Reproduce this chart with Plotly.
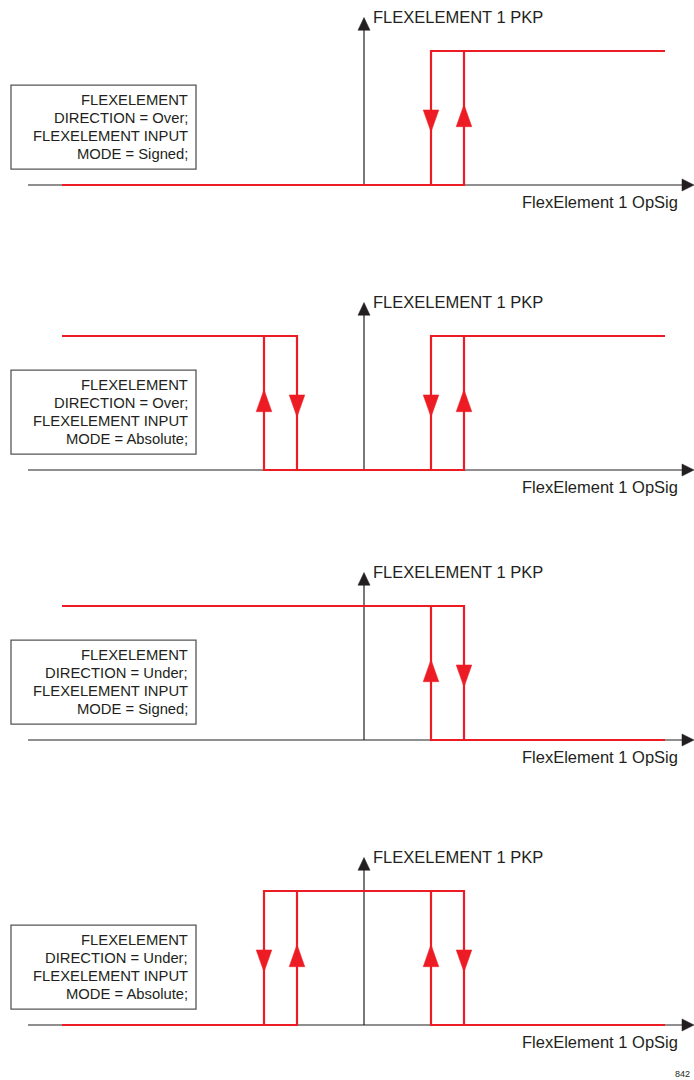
import plotly.graph_objects as go
from plotly.subplots import make_subplots

# thresholds (x units): pickup and dropout of the hysteresis band
PKP = 1.00
DPO = 0.67
X_START, X_END = -3.02, 3.01

box_texts = [
    ["FLEXELEMENT", "DIRECTION = Over;", "FLEXELEMENT INPUT", "MODE = Signed;"],
    ["FLEXELEMENT", "DIRECTION = Over;", "FLEXELEMENT INPUT", "MODE = Absolute;"],
    ["FLEXELEMENT", "DIRECTION = Under;", "FLEXELEMENT INPUT", "MODE = Signed;"],
    ["FLEXELEMENT", "DIRECTION = Under;", "FLEXELEMENT INPUT", "MODE = Absolute;"],
]

# red characteristic paths, None breaks the line
over_signed_x = [X_START, PKP, PKP, None, DPO, DPO, X_END]
over_signed_y = [0, 0, 1, None, 0, 1, 1]

over_abs_x = [X_START, -DPO, -DPO, None, -PKP, -PKP, PKP, PKP, None, DPO, DPO, X_END]
over_abs_y = [1, 1, 0, None, 1, 0, 0, 1, None, 0, 1, 1]

under_signed_x = [X_START, PKP, PKP, None, DPO, DPO, X_END]
under_signed_y = [1, 1, 0, None, 1, 0, 0]

under_abs_x = [X_START, -DPO, -DPO, None, -PKP, -PKP, PKP, PKP, None, DPO, DPO, X_END]
under_abs_y = [0, 0, 1, None, 0, 1, 1, 0, None, 1, 0, 0]

paths = [(over_signed_x, over_signed_y), (over_abs_x, over_abs_y),
         (under_signed_x, under_signed_y), (under_abs_x, under_abs_y)]

# arrow heads on the vertical edges: (x, direction)
arrows = [
    [(DPO, "down"), (PKP, "up")],
    [(-PKP, "up"), (-DPO, "down"), (DPO, "down"), (PKP, "up")],
    [(DPO, "up"), (PKP, "down")],
    [(-PKP, "down"), (-DPO, "up"), (DPO, "up"), (PKP, "down")],
]

y_label = "FLEXELEMENT 1 PKP"
x_label = "FlexElement 1 OpSig"

RED = "#ed1c24"
INK = "#231f20"
FONT = "Arial, Liberation Sans, sans-serif"

W, H = 694, 1080
baselines = [185, 470, 740, 1025]   # pixel row of each x axis
YMIN, YMAX = -0.4, 1.3
YSCALE = 134.0                      # px per y unit

fig = make_subplots(rows=4, cols=1)

for i in range(4):
    r = i + 1
    xa = "x" if i == 0 else f"x{r}"
    ya = "y" if i == 0 else f"y{r}"

    # axes (black) with arrowheads
    fig.add_trace(go.Scatter(x=[-3.36, 3.25], y=[0, 0], mode="lines",
                             line=dict(color=INK, width=1.2), hoverinfo="skip"), row=r, col=1)
    fig.add_trace(go.Scatter(x=[0, 0], y=[0, 1.17], mode="lines",
                             line=dict(color=INK, width=1.2), hoverinfo="skip"), row=r, col=1)
    fig.add_trace(go.Scatter(x=[3.18, 3.30, 3.18, 3.18], y=[0.045, 0, -0.045, 0.045],
                             fill="toself", fillcolor=INK, mode="lines",
                             line=dict(color=INK, width=0.5), hoverinfo="skip"), row=r, col=1)
    fig.add_trace(go.Scatter(x=[-0.06, 0, 0.06, -0.06], y=[1.155, 1.25, 1.155, 1.155],
                             fill="toself", fillcolor=INK, mode="lines",
                             line=dict(color=INK, width=0.5), hoverinfo="skip"), row=r, col=1)

    # red characteristic
    px_, py_ = paths[i]
    fig.add_trace(go.Scatter(x=px_, y=py_, mode="lines",
                             line=dict(color=RED, width=2.2), hoverinfo="skip"), row=r, col=1)

    for ax, d in arrows[i]:
        hw = 0.078
        if d == "down":
            tx = [ax - hw, ax + hw, ax, ax - hw]
            ty = [0.56, 0.56, 0.395, 0.56]
        else:
            tx = [ax - hw, ax + hw, ax, ax - hw]
            ty = [0.435, 0.435, 0.60, 0.435]
        fig.add_trace(go.Scatter(x=tx, y=ty, fill="toself", fillcolor=RED, mode="lines",
                                 line=dict(color=RED, width=0.5), hoverinfo="skip"), row=r, col=1)

    # legend box
    fig.add_shape(type="rect", xref=xa, yref=ya, x0=-3.53, x1=-1.68, y0=0.119, y1=0.746,
                  line=dict(color="#555555", width=1.3), fillcolor="rgba(0,0,0,0)")
    for j, t in enumerate(box_texts[i]):
        fig.add_annotation(xref=xa, yref=ya, x=-1.745, y=0.633 - j * 0.134, text=t,
                           showarrow=False, xanchor="right", yanchor="middle",
                           font=dict(family=FONT, size=14.8, color=INK))

    fig.add_annotation(xref=xa, yref=ya, x=0.07, y=1.255, text=y_label, showarrow=False,
                       xanchor="left", yanchor="middle",
                       font=dict(family=FONT, size=16.5, color=INK))
    fig.add_annotation(xref=xa, yref=ya, x=3.155, y=-0.125, text=x_label, showarrow=False,
                       xanchor="right", yanchor="middle",
                       font=dict(family=FONT, size=16.5, color=INK))

    b = baselines[i]
    top_px = b - YMAX * YSCALE
    bot_px = b - YMIN * YSCALE
    fig.update_xaxes(range=[-3.64, 3.30], visible=False, row=r, col=1, domain=[0, 1])
    fig.update_yaxes(range=[YMIN, YMAX], visible=False, row=r, col=1,
                     domain=[1 - bot_px / H, 1 - top_px / H])

fig.add_annotation(xref="paper", yref="paper", x=692 / W, y=1 - 1074 / H, text="842",
                   showarrow=False, xanchor="right", yanchor="middle",
                   font=dict(family=FONT, size=9, color=INK))

fig.update_layout(width=W, height=H, margin=dict(l=0, r=0, t=0, b=0),
                  paper_bgcolor="white", plot_bgcolor="white", showlegend=False)

# drop the default page margin so the figure sits at the window's corner
fig.write_html("out.html", config={"displayModeBar": False},
               post_script="document.body.style.margin='0';")
